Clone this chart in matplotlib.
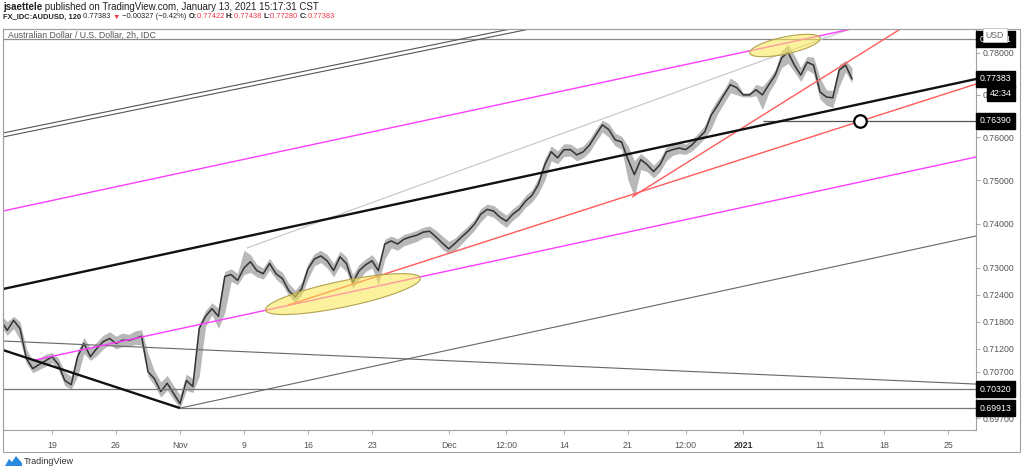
import numpy as np
import matplotlib.pyplot as plt
from matplotlib.patches import Polygon, Rectangle
from matplotlib.transforms import IdentityTransform

plt.rcParams['font.family'] = ['Liberation Sans', 'DejaVu Sans']

W, H = 1024, 472

# AUDUSD 2h, read every half trading day (weekends removed), day 0 = Mon 19 Oct 2020
day_start = -4.0
close = [0.7183, 0.7161, 0.7183, 0.7165, 0.7099, 0.7077, 0.7086, 0.7094, 0.7103, 0.7086,
         0.7051, 0.7042, 0.7103, 0.7132, 0.7103, 0.7121, 0.7136, 0.7143, 0.7132, 0.7139,
         0.7139, 0.7143, 0.7148, 0.7070, 0.7055, 0.7027, 0.7045, 0.7023, 0.7001, 0.7051,
         0.7038, 0.7165, 0.7192, 0.7209, 0.7192, 0.7281, 0.7285, 0.7272, 0.7300, 0.7314,
         0.7294, 0.7287, 0.7310, 0.7287, 0.7276, 0.7249, 0.7235, 0.7253, 0.7298, 0.7320,
         0.7327, 0.7316, 0.7294, 0.7325, 0.7310, 0.7267, 0.7294, 0.7307, 0.7316, 0.7294,
         0.7354, 0.7361, 0.7354, 0.7365, 0.7370, 0.7374, 0.7381, 0.7383, 0.7370, 0.7356,
         0.7343, 0.7356, 0.7370, 0.7383, 0.7399, 0.7422, 0.7433, 0.7429, 0.7415, 0.7406,
         0.7422, 0.7433, 0.7452, 0.7465, 0.7490, 0.7536, 0.7566, 0.7552, 0.7571, 0.7571,
         0.7559, 0.7566, 0.7582, 0.7606, 0.7629, 0.7618, 0.7594, 0.7589, 0.7548, 0.7513,
         0.7548, 0.7536, 0.7520, 0.7536, 0.7566, 0.7571, 0.7575, 0.7571, 0.7582, 0.7598,
         0.7613, 0.7652, 0.7675, 0.7700, 0.7724, 0.7717, 0.7700, 0.7700, 0.7712, 0.7700,
         0.7724, 0.7747, 0.7788, 0.7802, 0.7771, 0.7747, 0.7778, 0.7771, 0.7707, 0.7695,
         0.7693, 0.7759, 0.7771, 0.77383]
high = [0.7195, 0.7180, 0.7192, 0.7180, 0.7120, 0.7095, 0.7100, 0.7108, 0.7112, 0.7100,
        0.7070, 0.7060, 0.7115, 0.7145, 0.7122, 0.7135, 0.7150, 0.7158, 0.7148, 0.7155,
        0.7152, 0.7160, 0.7162, 0.7110, 0.7072, 0.7048, 0.7062, 0.7040, 0.7020, 0.7065,
        0.7055, 0.7175, 0.7205, 0.7222, 0.7210, 0.7292, 0.7298, 0.7288, 0.7340, 0.7330,
        0.7308, 0.7300, 0.7322, 0.7300, 0.7290, 0.7265, 0.7250, 0.7268, 0.7310, 0.7332,
        0.7340, 0.7330, 0.7310, 0.7338, 0.7325, 0.7285, 0.7308, 0.7320, 0.7330, 0.7310,
        0.7365, 0.7372, 0.7366, 0.7376, 0.7380, 0.7385, 0.7392, 0.7395, 0.7385, 0.7372,
        0.7360, 0.7368, 0.7382, 0.7395, 0.7410, 0.7435, 0.7445, 0.7442, 0.7430, 0.7420,
        0.7435, 0.7446, 0.7465, 0.7478, 0.7505, 0.7550, 0.7580, 0.7568, 0.7585, 0.7584,
        0.7574, 0.7580, 0.7596, 0.7620, 0.7640, 0.7632, 0.7610, 0.7602, 0.7580, 0.7545,
        0.7562, 0.7550, 0.7535, 0.7550, 0.7578, 0.7584, 0.7588, 0.7584, 0.7595, 0.7610,
        0.7628, 0.7665, 0.7690, 0.7712, 0.7740, 0.7730, 0.7705, 0.7705, 0.7725, 0.7720,
        0.7738, 0.7760, 0.7805, 0.7820, 0.7795, 0.7765, 0.7792, 0.7790, 0.7740, 0.7712,
        0.7710, 0.7772, 0.7782, 0.7765]
low = [0.7170, 0.7150, 0.7165, 0.7140, 0.7088, 0.7068, 0.7075, 0.7082, 0.7090, 0.7075,
       0.7040, 0.7032, 0.7060, 0.7110, 0.7095, 0.7105, 0.7120, 0.7130, 0.7120, 0.7125,
       0.7125, 0.7130, 0.7128, 0.7060, 0.7040, 0.7015, 0.7030, 0.7010, 0.6991, 0.7030,
       0.7025, 0.7060, 0.7170, 0.7195, 0.7165, 0.7200, 0.7270, 0.7262, 0.7285, 0.7290,
       0.7280, 0.7275, 0.7295, 0.7275, 0.7262, 0.7238, 0.7222, 0.7240, 0.7275, 0.7305,
       0.7312, 0.7300, 0.7280, 0.7305, 0.7292, 0.7255, 0.7275, 0.7292, 0.7300, 0.7262,
       0.7320, 0.7345, 0.7340, 0.7350, 0.7355, 0.7360, 0.7368, 0.7370, 0.7358, 0.7342,
       0.7332, 0.7340, 0.7355, 0.7370, 0.7385, 0.7405, 0.7420, 0.7415, 0.7402, 0.7392,
       0.7408, 0.7420, 0.7438, 0.7450, 0.7470, 0.7500, 0.7545, 0.7538, 0.7555, 0.7556,
       0.7545, 0.7552, 0.7566, 0.7590, 0.7612, 0.7600, 0.7580, 0.7572, 0.7500, 0.7462,
       0.7525, 0.7520, 0.7505, 0.7520, 0.7545, 0.7558, 0.7562, 0.7560, 0.7568, 0.7582,
       0.7598, 0.7620, 0.7655, 0.7680, 0.7705, 0.7700, 0.7695, 0.7695, 0.7698, 0.7665,
       0.7705, 0.7730, 0.7765, 0.7775, 0.7755, 0.7732, 0.7760, 0.7750, 0.7690, 0.7675,
       0.7670, 0.7720, 0.7755, 0.7728]
day = day_start + 0.5 * np.arange(len(close))

xtick_pos = [0, 5, 10, 15, 20, 25, 31, 35.5, 40, 45, 49.5, 54, 60, 65, 70]
xtick_lab = ['19', '26', 'Nov', '9', '16', '23', 'Dec', '12:00', '14', '21', '12:00', '2021', '11', '18', '25']
ytick_vals = [0.780, 0.770, 0.760, 0.750, 0.740, 0.730, 0.724, 0.718, 0.712, 0.707, 0.702, 0.697]

# price tags on the right scale
tag_vals = [0.78331, 0.77383, 0.76390, 0.70320, 0.69913]

# drawings: (day, price) endpoints
trendlines = [
    ((-4.0, 0.78331), (73.0, 0.78331), '#8a8a8a', 0.9),    # top horizontal
    ((-4.0, 0.70320), (73.0, 0.70320), '#777777', 0.9),
    ((10.0, 0.69913), (73.0, 0.69913), '#777777', 0.9),
    ((55.55, 0.76390), (73.0, 0.76390), '#555555', 0.9),
    ((-3.83, 0.76100), (72.19, 0.80927), '#555555', 0.8),  # double channel lines
    ((-3.83, 0.76007), (72.19, 0.80827), '#555555', 0.8),
    ((-3.83, 0.71374), (72.19, 0.70433), '#666666', 0.8),
    ((10.0, 0.69913), (72.19, 0.73722), '#666666', 0.8),
    ((15.23, 0.73450), (62.34, 0.78579), '#c4c4c4', 0.8),
    ((-3.83, 0.74292), (72.19, 0.79229), '#ff3dff', 1.0),  # magenta
    ((-1.33, 0.70957), (72.19, 0.75539), '#ff3dff', 1.0),
    ((18.44, 0.72170), (72.19, 0.77258), '#ff5a5a', 1.0),  # red
    ((45.31, 0.74613), (66.41, 0.78603), '#ff5a5a', 1.0),
    ((-3.83, 0.72527), (72.19, 0.77377), '#111111', 1.7),  # black
    ((-3.83, 0.71176), (10.0, 0.69913), '#111111', 1.7),
]

fig = plt.figure(figsize=(W / 100, H / 100), dpi=100)
ax = fig.add_axes([3 / W, 1 - 430 / H, 973 / W, 401 / H])
ax.set_yscale('log')
ax.set_xlim(-3.828, 72.19)
ax.set_ylim(0.69443, 0.78579)
ax.set_autoscale_on(False)

ax.fill_between(day, low, high, color='#b8b8b8', lw=0, zorder=2)
ax.plot(day, close, color='#333333', lw=1.1, zorder=3)

for (x0, y0), (x1, y1), c, lw in trendlines:
    ax.plot([x0, x1], [y0, y1], color=c, lw=lw, zorder=4, solid_capstyle='butt')

ax.plot(63.12, 0.7639, 'o', ms=9, mfc='white', mec='black', mew=1.6, zorder=7)

ax.yaxis.tick_right()
ax.yaxis.set_minor_locator(plt.NullLocator())
ax.xaxis.set_minor_locator(plt.NullLocator())
ax.set_yticks(ytick_vals)
ax.set_yticklabels([f'{v:.5f}' for v in ytick_vals])
ax.set_xticks(xtick_pos)
ax.set_xticklabels(xtick_lab)
ax.tick_params(axis='both', length=3, width=0.6, color='#9a9a9a', labelsize=6.3, labelcolor='#555555')
ax.tick_params(axis='y', pad=2)
ax.tick_params(axis='x', pad=5)
ax.get_xticklabels()[11].set_fontweight('bold')
ax.get_xticklabels()[11].set_color('#333333')
for s in ax.spines.values():
    s.set_color('#a0a0a0')
    s.set_linewidth(0.8)

for v in tag_vals:
    ax.text(1.0036, v, f'{v:.5f}', transform=ax.get_yaxis_transform(), ha='left', va='center',
            fontsize=6.3, color='white', zorder=10, clip_on=False,
            bbox=dict(boxstyle='square,pad=0.4', fc='black', ec='black'))
ax.text(1.0365, 0.77032, '42:34', transform=ax.get_yaxis_transform(), ha='right', va='center',
        fontsize=6.3, color='white', zorder=11, clip_on=False,
        bbox=dict(boxstyle='square,pad=0.35', fc='black', ec='black'))


# highlight ellipses, sized in screen pixels around a chart point
def add_ellipse(d, p, a_px, b_px, ang):
    cx, cy = ax.transData.transform((d, p))
    t = np.linspace(0, 2 * np.pi, 120)
    r = np.radians(ang)
    xs = cx + a_px * np.cos(t) * np.cos(r) - b_px * np.sin(t) * np.sin(r)
    ys = cy + a_px * np.cos(t) * np.sin(r) + b_px * np.sin(t) * np.cos(r)
    fig.add_artist(Polygon(np.c_[xs, ys], closed=True, transform=IdentityTransform(),
                           fc=(0.98, 0.90, 0.30, 0.55), ec='#b3a24e', lw=0.8))


add_ellipse(22.73, 0.72414, 79, 13, 11.7)
add_ellipse(57.27, 0.78180, 36, 8.5, 12)

# outer frame of the chart + scales
fig.add_artist(Rectangle((3 / W, 1 - 452 / H), 1017 / W, 423 / H, transform=fig.transFigure,
                         fill=False, ec='#a0a0a0', lw=0.8))

fig.text(995 / W, 1 - 35 / H, 'USD', ha='center', va='center', fontsize=6.3, color='#666666',
         bbox=dict(boxstyle='square,pad=0.3', fc='white', ec='#c0c0c0', lw=0.6))
fig.text(8 / W, 1 - 35 / H, 'Australian Dollar / U.S. Dollar, 2h, IDC', ha='left', va='center',
         fontsize=6.3, color='#555555')

# header lines
t1 = fig.text(3 / W, 1 - 7 / H, 'jsaettele', ha='left', va='center', fontsize=7.0,
              color='#222222', fontweight='bold')
ax.annotate(' published on TradingView.com, January 13, 2021 15:17:31 CST', xy=(1, 0.5),
            xycoords=t1, va='center', ha='left', fontsize=7.0, color='#222222')

header2 = [('FX_IDC:AUDUSD, 120', '#222222', 'bold'), (' 0.77383 ', '#222222', 'normal'),
           ('▼', '#f23645', 'normal'), (' \u22120.00327 (\u22120.42%) ', '#222222', 'normal'),
           ('O:', '#222222', 'bold'), ('0.77422 ', '#f23645', 'normal'),
           ('H:', '#222222', 'bold'), ('0.77438 ', '#f23645', 'normal'),
           ('L:', '#222222', 'bold'), ('0.77280 ', '#f23645', 'normal'),
           ('C:', '#222222', 'bold'), ('0.77383', '#f23645', 'normal')]
prev = fig.text(3 / W, 1 - 17 / H, '', ha='left', va='center', fontsize=5.4)
for s, c, w in header2:
    prev = ax.annotate(s, xy=(1, 0.5), xycoords=prev, va='center', ha='left', fontsize=5.4,
                       color=c, fontweight=w)

# TradingView logo
logo = [(5, 466), (9, 459), (12, 462), (16, 456), (22, 463), (22, 466)]
fig.add_artist(Polygon([(x / W, 1 - y / H) for x, y in logo], closed=True, transform=fig.transFigure,
                       fc='#2a8ae0', ec='none'))
fig.text(24 / W, 1 - 461 / H, 'TradingView', ha='left', va='center', fontsize=6.5, color='#333333')

fig.savefig('out.png', dpi=100)
